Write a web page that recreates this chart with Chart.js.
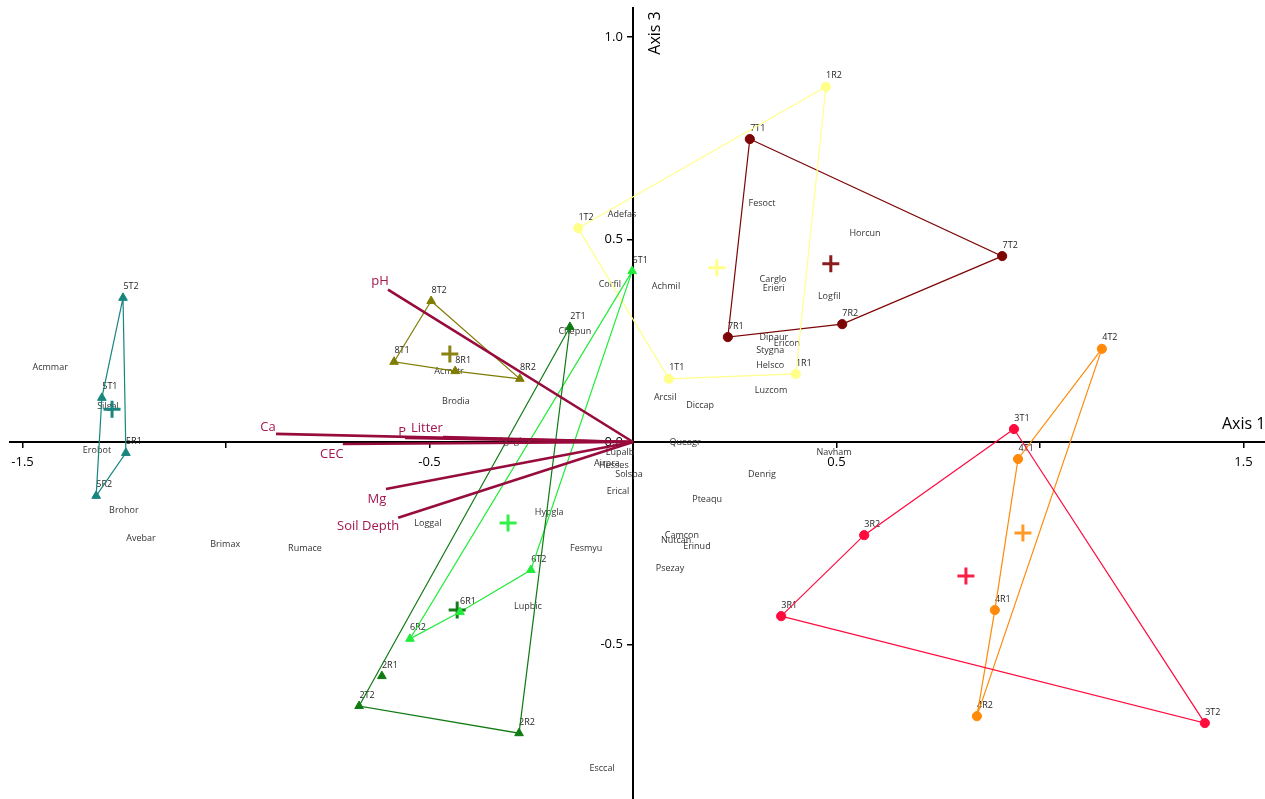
<!DOCTYPE html>
<html>
<head>
<meta charset="utf-8">
<script src="https://cdn.jsdelivr.net/npm/chart.js@4.4.1/dist/chart.umd.min.js"></script>
<style>
  html, body { margin: 0; padding: 0; background: #ffffff; overflow: hidden; }
  #wrap { width: 1265px; height: 799px; position: relative; }
</style>
</head>
<body>
<div id="wrap"><canvas id="ordination"></canvas></div>
<script>
// ---- Axis ticks ----
const xLabelledTicks = [-1.5, -0.5, 0.5, 1.5];
const yLabelledTicks = [-0.5, 0.0, 0.5, 1.0];

// ---- Site scores (Axis 1, Axis 3), listed in hull order ----
const group5Sites = ['5T2', '5T1', '5R2', '5R1'];
const group5X = [-1.253, -1.305, -1.319, -1.246];
const group5Y = [0.356, 0.109, -0.133, -0.027];

const group8Sites = ['8T2', '8R2', '8R1', '8T1'];
const group8X = [-0.496, -0.278, -0.437, -0.587];
const group8Y = [0.348, 0.156, 0.175, 0.198];

const group2Sites = ['2T1', '2T2', '2R2', '2R1'];
const group2X = [-0.155, -0.673, -0.280, -0.617];
const group2Y = [0.284, -0.652, -0.719, -0.578];

const group6Sites = ['6T1', '6T2', '6R1', '6R2'];
const group6X = [-0.002, -0.251, -0.425, -0.548];
const group6Y = [0.422, -0.316, -0.420, -0.486];

const group1Sites = ['1R2', '1T2', '1T1', '1R1'];
const group1X = [0.474, -0.135, 0.088, 0.400];
const group1Y = [0.877, 0.528, 0.156, 0.168];

const group7Sites = ['7T1', '7T2', '7R2', '7R1'];
const group7X = [0.287, 0.907, 0.514, 0.233];
const group7Y = [0.748, 0.459, 0.291, 0.259];

const group3Sites = ['3T1', '3T2', '3R1', '3R2'];
const group3X = [0.936, 1.405, 0.364, 0.568];
const group3Y = [0.032, -0.694, -0.430, -0.230];

const group4Sites = ['4T2', '4T1', '4R1', '4R2'];
const group4X = [1.152, 0.946, 0.889, 0.845];
const group4Y = [0.230, -0.042, -0.415, -0.677];

// ---- Group centroids ----
const centroidGroups = ['5', '8', '2', '6', '1', '7', '3', '4'];
const centroidX = [-1.280, -0.450, -0.432, -0.307, 0.206, 0.486, 0.818, 0.958];
const centroidY = [0.081, 0.217, -0.415, -0.200, 0.430, 0.440, -0.331, -0.225];

// ---- Environmental vectors ----
const vectorNames = ['pH', 'Ca', 'CEC', 'P', 'Litter', 'Mg', 'Soil Depth'];
const vectorX = [-0.602, -0.877, -0.713, -0.560, -0.467, -0.607, -0.577];
const vectorY = [0.376, 0.020, -0.005, 0.010, 0.012, -0.116, -0.187];

// ---- Species scores ----
const speciesNames = ['Acmmar', 'Silgal', 'Erobot', 'Brohor', 'Avebar', 'Brimax', 'Rumace',
  'Brodia', 'Acmstr', 'Loggal', 'Chepun', 'Corfil', 'Adefas', 'Achmil', 'Agngla',
  'Lupalb', 'Airpra', 'Hesses', 'Solspa', 'Erical', 'Hypgla', 'Fesmyu', 'Lupbic', 'Esccal',
  'Queagr', 'Arcsil', 'Diccap', 'Denrig', 'Pteaqu', 'Camcon', 'Nutcan', 'Erinud', 'Psezay',
  'Navham', 'Fesoct', 'Horcun', 'Carglo', 'Erieri', 'Logfil', 'Dipaur', 'Ericon', 'Stygna',
  'Helsco', 'Luzcom'];
const speciesX = [-1.432, -1.290, -1.317, -1.251, -1.209, -1.002, -0.806,
  -0.435, -0.452, -0.504, -0.143, -0.057, -0.027, 0.081, -0.297,
  -0.032, -0.064, -0.047, -0.010, -0.037, -0.206, -0.115, -0.258, -0.076,
  0.128, 0.079, 0.165, 0.317, 0.182, 0.120, 0.106, 0.157, 0.091,
  0.494, 0.317, 0.570, 0.344, 0.346, 0.482, 0.346, 0.378, 0.337,
  0.337, 0.339];
const speciesY = [0.183, 0.089, -0.020, -0.170, -0.237, -0.254, -0.264,
  0.099, 0.175, -0.202, 0.272, 0.388, 0.563, 0.385, 0.002,
  -0.025, -0.054, -0.059, -0.079, -0.123, -0.173, -0.264, -0.405, -0.807,
  -0.002, 0.109, 0.091, -0.079, -0.143, -0.230, -0.244, -0.259, -0.311,
  -0.025, 0.590, 0.516, 0.402, 0.378, 0.360, 0.259, 0.244, 0.227,
  0.188, 0.128];

// ---- Drawing styles ----
const VECTOR_COLOR = '#970b3d';
const VECTOR_LABEL_COLOR = '#a3164f';
const FONT = '"Open Sans", "DejaVu Sans", sans-serif';

// label offsets (pixels) for the vector names, relative to each arrow tip
const vectorLabelOffsets = [[-8, -8], [-8, -7], [-11, 10], [-3, -6], [-16, -9], [-9, 10], [-30, 9]];

const groupStyles = [
  { sites: group5Sites, x: group5X, y: group5Y, hull: [0, 1, 2, 3], color: '#18857f', marker: 'triangle' },
  { sites: group8Sites, x: group8X, y: group8Y, hull: [0, 1, 2, 3], color: '#7f7c00', marker: 'triangle' },
  { sites: group2Sites, x: group2X, y: group2Y, hull: [0, 1, 2], color: '#0f7a12', marker: 'triangle' },
  { sites: group6Sites, x: group6X, y: group6Y, hull: [0, 1, 2, 3], color: '#22ec3a', marker: 'triangle' },
  { sites: group1Sites, x: group1X, y: group1Y, hull: [0, 1, 2, 3], color: '#ffff8a', marker: 'circle' },
  { sites: group7Sites, x: group7X, y: group7Y, hull: [0, 1, 2, 3], color: '#7d0505', marker: 'circle' },
  { sites: group3Sites, x: group3X, y: group3Y, hull: [0, 1, 2, 3], color: '#ff0b3e', marker: 'circle' },
  { sites: group4Sites, x: group4X, y: group4Y, hull: [0, 1, 2, 3], color: '#ff8a0a', marker: 'circle' }
];
const centroidColors = ['#18857f', '#8a8212', '#167c1a', '#36f04a', '#ffff8a', '#8c1c1c', '#ff1e4a', '#ff9a26'];

// ---- Datasets ----
const datasets = [];

// environmental vectors (drawn on top)
vectorNames.forEach((name, i) => {
  datasets.push({
    label: name,
    data: [{ x: 0, y: 0 }, { x: vectorX[i], y: vectorY[i] }],
    showLine: true,
    borderColor: VECTOR_COLOR,
    borderWidth: 2.6,
    pointRadius: 0,
    order: 0
  });
});

// site markers and hull outlines
groupStyles.forEach((g) => {
  const pts = g.sites.map((s, i) => ({ x: g.x[i], y: g.y[i] }));
  const ring = g.hull.map(i => pts[i]);
  ring.push(pts[g.hull[0]]);
  datasets.push({
    label: 'hull ' + g.sites[0][0],
    data: ring,
    showLine: true,
    borderColor: g.color,
    borderWidth: 1.2,
    pointRadius: 0,
    order: 3
  });
  datasets.push({
    label: 'sites ' + g.sites[0][0],
    data: pts,
    showLine: false,
    pointStyle: g.marker,
    pointRadius: g.marker === 'triangle' ? 5 : 4.6,
    backgroundColor: g.color,
    borderColor: g.color,
    borderWidth: 1,
    order: 1
  });
});

// centroids
datasets.push({
  label: 'centroids',
  data: centroidX.map((x, i) => ({ x, y: centroidY[i] })),
  showLine: false,
  pointStyle: 'cross',
  pointRadius: 8.5,
  borderWidth: 3,
  borderColor: centroidColors,
  backgroundColor: centroidColors,
  order: 2
});

// ---- Text labels and axis titles ----
const textPlugin = {
  id: 'ordinationText',
  beforeDatasetsDraw(chart) {
    const { ctx } = chart;
    const sx = chart.scales.x, sy = chart.scales.y;
    ctx.save();
    ctx.textAlign = 'center';
    ctx.textBaseline = 'middle';

    ctx.font = '9px ' + FONT;
    ctx.fillStyle = '#333333';
    speciesNames.forEach((n, i) => {
      ctx.fillText(n, sx.getPixelForValue(speciesX[i]), sy.getPixelForValue(speciesY[i]));
    });

    ctx.fillStyle = '#1e1e1e';
    groupStyles.forEach((g) => {
      g.sites.forEach((s, i) => {
        ctx.fillText(s, sx.getPixelForValue(g.x[i]) + 8, sy.getPixelForValue(g.y[i]) - 11);
      });
    });

    ctx.font = '13px ' + FONT;
    ctx.fillStyle = VECTOR_LABEL_COLOR;
    vectorNames.forEach((n, i) => {
      const [dx, dy] = vectorLabelOffsets[i];
      ctx.fillText(n, sx.getPixelForValue(vectorX[i]) + dx, sy.getPixelForValue(vectorY[i]) + dy);
    });
    ctx.restore();
  },
  afterDraw(chart) {
    const { ctx } = chart;
    const sx = chart.scales.x, sy = chart.scales.y;
    const ox = sx.getPixelForValue(0), oy = sy.getPixelForValue(0);
    ctx.save();
    ctx.font = '16px ' + FONT;
    ctx.fillStyle = '#000000';
    ctx.textBaseline = 'middle';
    ctx.textAlign = 'left';
    ctx.fillText('Axis 1', chart.chartArea.right - 43, oy - 18);
    ctx.translate(ox + 22, chart.chartArea.top + 25);
    ctx.rotate(-Math.PI / 2);
    ctx.textAlign = 'center';
    ctx.fillText('Axis 3', 0, 0);
    ctx.restore();
  }
};

const near = (v, list) => list.some(t => Math.abs(t - v) < 1e-6);

new Chart(document.getElementById('ordination'), {
  type: 'scatter',
  data: { datasets },
  options: {
    responsive: true,
    maintainAspectRatio: false,
    animation: false,
    layout: { autoPadding: false, padding: { left: 10, top: 8, right: 0, bottom: 0 } },
    plugins: { legend: { display: false }, tooltip: { enabled: false } },
    scales: {
      x: {
        type: 'linear',
        min: -1.5307,
        max: 1.5528,
        position: { y: 0 },
        border: { display: true, color: '#000000', width: 2 },
        grid: { display: true, drawOnChartArea: false, drawTicks: true, tickLength: 5, color: '#000000', lineWidth: 1.5 },
        ticks: {
          stepSize: 0.5,
          includeBounds: false,
          autoSkip: false,
          maxRotation: 0,
          padding: 8,
          color: '#000000',
          font: { family: FONT, size: 13 },
          callback: (v) => near(v, xLabelledTicks) ? v.toFixed(1) : ''
        },
        afterFit: (s) => { s.height = 0; s.paddingLeft = 0; s.paddingRight = 0; }
      },
      y: {
        type: 'linear',
        min: -0.8815,
        max: 1.0716,
        position: { x: 0 },
        border: { display: true, color: '#000000', width: 2 },
        grid: { display: true, drawOnChartArea: false, drawTicks: true, tickLength: 5, color: '#000000', lineWidth: 1.5 },
        ticks: {
          stepSize: 0.5,
          includeBounds: false,
          autoSkip: false,
          color: '#000000',
          font: { family: FONT, size: 13 },
          // trailing spaces keep the labels clear of the axis line
          callback: (v) => near(v, yLabelledTicks) ? v.toFixed(1) + '   ' : ''
        },
        afterFit: (s) => { s.width = 0; s.paddingTop = 0; s.paddingBottom = 0; }
      }
    }
  },
  plugins: [textPlugin]
});
</script>
</body>
</html>
